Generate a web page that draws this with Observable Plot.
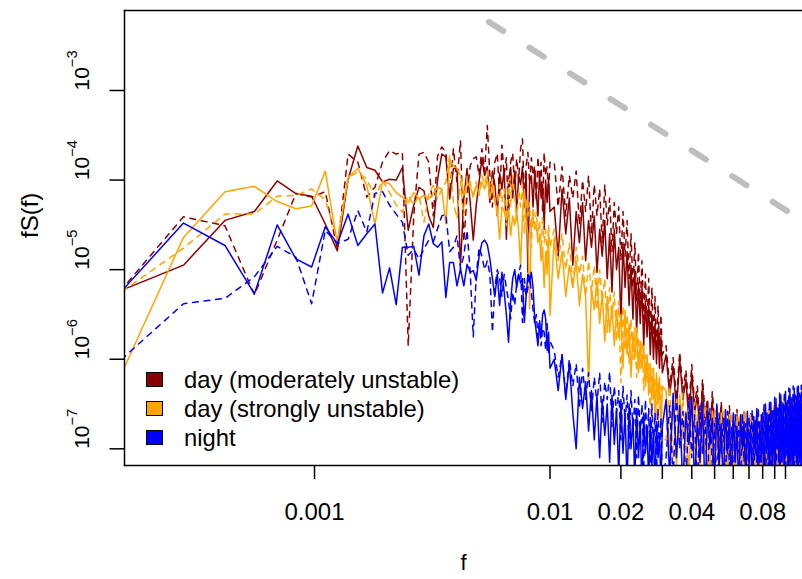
<!DOCTYPE html>
<html>
<head>
<meta charset="utf-8">
<script src="https://cdn.jsdelivr.net/npm/d3@7"></script>
<script src="https://cdn.jsdelivr.net/npm/@observablehq/plot@0.6"></script>
<style>
  html, body { margin: 0; padding: 0; background: #fff; overflow: hidden; }
  #wrap { position: relative; width: 802px; height: 579px; font-family: "Liberation Sans", Arial, Helvetica, sans-serif; }
  #wrap svg { display: block; }
  .legend { position: absolute; left: 146px; top: 365px; font-size: 23.8px; color: #000; }
  .legend .row { height: 29px; display: flex; align-items: center; white-space: nowrap; }
  .legend .sw { width: 15px; height: 13px; border: 1.5px solid #000; margin-right: 21px; flex: none; }
</style>
</head>
<body>
<div id="wrap"></div>
<script>
// ---- data -------------------------------------------------------------
// frequency spacing of the spectral estimates (Hz): f = harmonic * df
const df = 1 / 7200;
const harmonics = [
  1,2,3,4,5,6,7,8,9,10,11,12,13,14,15,16,17,18,19,20,21,22,23,24,
  25,26,27,28,29,30,31,32,33,34,35,36,37,38,39,40,41,42,43,44,45,46,47,48,
  49,50,51,52,53,54,55,56,57,58,59,60,61,62,63,64,65,66,67,68,69,70,71,72,
  75,78,81,84,87,90,93,96,99,102,105,108,111,114,117,120,123,126,129,132,135,138,141,144,
  147,150,153,156,159,162,165,168,171,174,177,180,183,186,189,192,195,198,201,204,207,210,213,216,
  224,232,240,248,256,264,272,280,288,296,304,312,320,328,336,344,352,360,368,376,384,392,400,408,
  416,424,432,440,448,456,464,472,480,488,496,504,512,520,528,536,544,552,560,568,576,584,592,600,
  608,616,624,632,640,648,656,664,672,680,688,696,704,712,720,728,736,744,752,760,768,776,784,792,
  800,808,816,824,832,840,848,856,864
];

// log10 of fS(f), one value per harmonic above
const moderateSolid = [
  -5.27,-4.95,-4.45,-4.35,-4.01,-4.15,-4.18,-4.49,-4.79,-3.99,-3.62,-3.86,
  -3.89,-4.02,-3.99,-4.00,-3.86,-4.56,-4.28,-4.08,-4.12,-4.40,-4.53,-3.99,
  -3.71,-3.74,-4.21,-3.87,-3.87,-4.95,-4.21,-3.87,-4.25,-4.67,-4.28,-4.02,
  -3.76,-3.95,-3.85,-4.25,-3.90,-4.05,-4.40,-3.92,-4.10,-3.88,-4.66,-4.00,
  -3.86,-4.20,-3.90,-4.35,-3.95,-4.05,-3.85,-4.30,-3.92,-5.03,-4.00,-3.95,
  -4.30,-3.90,-4.15,-4.40,-3.92,-4.20,-4.05,-4.55,-4.00,-4.25,-3.98,-4.35,
  -4.30,-4.85,-4.10,-4.60,-4.20,-4.95,-4.35,-4.70,-4.25,-4.90,-4.45,-4.75,
  -4.40,-5.03,-4.55,-4.85,-4.45,-5.10,-4.60,-5.25,-4.55,-5.00,-4.75,-5.59,
  -4.70,-5.20,-4.80,-5.40,-4.95,-5.55,-5.00,-5.70,-5.15,-5.60,-5.20,-5.85,
  -5.35,-5.75,-5.40,-5.95,-5.50,-6.00,-5.60,-6.05,-5.65,-6.10,-5.75,-6.15,
  -5.95,-6.40,-6.08,-6.55,-6.00,-6.45,-6.22,-6.70,-6.15,-6.60,
  -6.40,-6.85,-6.30,-6.75,-6.52,-7.00,-6.45,-6.90,-6.62,-7.10,
  -6.52,-6.95,-6.68,-7.20,-6.58,-7.00,-6.72,-7.30,-6.62,-7.05,
  -6.74,-7.25,-6.64,-7.00,-6.78,-7.35,-6.66,-7.05,-6.76,-7.30,
  -6.68,-7.10,-6.80,-7.40,-6.70,-7.05,-6.78,-7.30,-6.68,-7.10,
  -6.80,-7.40,-6.70,-7.05,-6.78,-7.30,-6.66,-7.10,-6.76,-7.40,
  -6.68,-7.05,-6.78,-7.35,-6.66,-7.10,-6.74,-7.40,-6.64,-7.05,
  -6.76,-7.35,-6.66,-7.10,-6.74,-7.40,-6.64,-7.05,-6.72,-7.30,
  -6.66
];
const moderateDashed = [
  -5.34,-4.41,-4.51,-5.28,-4.67,-4.15,-4.19,-4.13,-4.77,-3.71,-3.80,-4.19,
  -4.08,-3.80,-3.67,-3.71,-3.69,-5.85,-4.40,-3.71,-3.69,-3.80,-4.40,-3.73,
  -3.63,-3.69,-4.17,-3.65,-4.02,-3.56,-4.69,-4.17,-3.84,-3.76,-3.74,-3.95,
  -3.65,-3.90,-3.39,-3.95,-4.30,-3.80,-3.70,-4.20,-3.61,-3.95,-3.75,-4.40,
  -3.80,-3.70,-4.10,-3.76,-4.00,-3.65,-3.54,-4.20,-3.85,-3.69,-4.05,-3.75,
  -3.95,-3.84,-4.25,-3.74,-4.00,-3.80,-4.35,-3.69,-3.95,-3.85,-4.15,-3.80,
  -3.80,-4.30,-3.85,-4.40,-3.95,-4.20,-3.90,-4.50,-4.00,-4.35,-3.95,-4.60,
  -4.05,-4.40,-4.10,-4.70,-4.05,-4.50,-4.20,-4.80,-4.25,-4.60,-4.30,-4.90,
  -4.35,-4.85,-4.45,-5.10,-4.60,-5.20,-4.70,-5.35,-4.80,-5.40,-4.90,-5.55,
  -5.05,-5.60,-5.10,-5.75,-5.20,-5.80,-5.30,-5.90,-5.40,-5.85,-5.50,-5.95,
  -5.85,-6.30,-5.98,-6.45,-5.92,-6.35,-6.12,-6.55,-6.06,-6.50,
  -6.30,-6.75,-6.22,-6.60,-6.44,-6.90,-6.36,-6.70,-6.54,-7.00,
  -6.48,-6.80,-6.62,-7.10,-6.52,-6.85,-6.66,-7.20,-6.56,-6.90,
  -6.68,-7.15,-6.58,-6.88,-6.70,-7.25,-6.60,-6.95,-6.72,-7.20,
  -6.60,-6.90,-6.74,-7.30,-6.62,-6.95,-6.70,-7.20,-6.60,-6.92,
  -6.72,-7.30,-6.62,-6.95,-6.70,-7.20,-6.58,-6.90,-6.68,-7.30,
  -6.60,-6.95,-6.70,-7.25,-6.58,-6.92,-6.68,-7.30,-6.58,-6.95,
  -6.68,-7.25,-6.58,-6.90,-6.66,-7.30,-6.56,-6.95,-6.64,-7.20,
  -6.58
];
const strongSolid = [
  -6.38,-4.64,-4.13,-4.07,-4.24,-4.32,-4.29,-3.90,-4.71,-3.97,-3.87,-4.06,
  -4.49,-4.02,-4.04,-4.14,-4.19,-4.25,-4.14,-4.21,-4.17,-4.21,-4.15,-4.08,
  -4.10,-4.49,-3.76,-3.84,-3.87,-3.95,-4.17,-4.02,-4.08,-4.17,-4.06,-4.14,
  -4.02,-4.10,-3.99,-4.20,-4.05,-4.25,-4.32,-4.66,-4.30,-4.35,-4.45,-4.32,
  -4.62,-4.40,-4.50,-4.35,-4.58,-4.95,-4.40,-4.10,-4.45,-4.60,-5.44,-4.45,
  -4.40,-4.55,-4.50,-4.70,-4.62,-4.90,-4.75,-5.20,-4.80,-5.05,-4.60,-5.51,
  -4.65,-5.10,-4.80,-5.30,-4.95,-5.20,-4.90,-5.40,-5.05,-5.30,-6.26,-5.20,
  -5.45,-5.10,-5.60,-5.25,-5.80,-5.30,-5.70,-5.40,-5.85,-5.45,-5.75,-5.50,
  -6.10,-5.45,-5.95,-5.60,-6.20,-5.70,-6.00,-5.65,-6.15,-5.80,-6.10,-5.85,
  -6.30,-5.95,-6.40,-6.05,-6.45,-6.10,-6.70,-6.15,-6.50,-6.20,-6.85,-6.30,
  -6.35,-7.00,-6.48,-7.20,-6.40,-6.90,-6.58,-7.30,-6.50,-7.00,
  -6.62,-7.40,-6.54,-7.05,-6.68,-7.35,-6.58,-7.10,-6.70,-7.45,
  -6.60,-7.05,-6.72,-7.40,-6.62,-7.10,-6.76,-7.50,-6.64,-7.00,
  -6.70,-7.40,-6.60,-7.15,-6.74,-7.45,-6.62,-7.05,-6.68,-7.40,
  -6.58,-7.10,-6.70,-7.50,-6.60,-7.05,-6.66,-7.40,-6.56,-7.10,
  -6.64,-7.45,-6.52,-7.05,-6.60,-7.40,-6.50,-7.10,-6.58,-7.45,
  -6.48,-7.05,-6.56,-7.40,-6.46,-7.10,-6.54,-7.45,-6.44,-7.05,
  -6.52,-7.40,-6.42,-7.10,-6.50,-7.45,-6.40,-7.05,-6.48,-7.40,
  -6.42
];
const strongDashed = [
  -5.32,-4.76,-4.38,-4.38,-4.18,-4.17,-4.10,-4.22,-4.66,-3.97,-3.91,-3.99,
  -4.19,-4.00,-4.14,-4.28,-4.36,-4.17,-4.28,-4.17,-4.47,-4.14,-4.06,-4.21,
  -4.10,-4.02,-3.73,-4.25,-4.43,-4.02,-4.40,-3.95,-4.02,-4.21,-4.02,-4.17,
  -3.95,-4.05,-3.90,-4.10,-3.99,-4.20,-4.40,-4.05,-4.25,-4.10,-4.51,-4.00,
  -4.30,-3.95,-4.20,-4.45,-4.10,-4.30,-4.05,-4.60,-4.20,-4.40,-4.25,-4.75,
  -4.30,-4.50,-4.35,-4.62,-4.45,-4.80,-4.40,-4.70,-4.55,-4.90,-4.50,-4.75,
  -4.55,-4.90,-4.60,-5.00,-4.70,-5.20,-4.75,-5.05,-4.85,-5.30,-4.90,-5.25,
  -4.95,-5.45,-5.00,-5.35,-5.10,-5.70,-5.20,-5.55,-5.25,-5.80,-5.35,-6.26,
  -5.40,-5.90,-5.50,-6.05,-5.55,-6.00,-5.65,-6.20,-5.75,-6.10,-5.80,-6.35,
  -5.95,-6.25,-6.05,-6.60,-6.10,-6.45,-6.20,-6.75,-6.25,-6.55,-6.30,-6.90,
  -6.90,-6.30,-7.10,-6.44,-6.95,-6.38,-7.25,-6.52,-7.05,-6.48,
  -7.35,-6.60,-7.00,-6.52,-7.40,-6.66,-7.05,-6.56,-7.30,-6.70,
  -7.10,-6.58,-7.45,-6.72,-7.05,-6.60,-7.35,-6.74,-7.10,-6.62,
  -7.45,-6.70,-7.00,-6.60,-7.40,-6.72,-7.10,-6.64,-7.45,-6.68,
  -7.05,-6.56,-7.40,-6.66,-7.10,-6.54,-7.45,-6.62,-7.05,-6.50,
  -7.40,-6.60,-7.10,-6.48,-7.45,-6.56,-7.05,-6.46,-7.40,-6.54,
  -7.10,-6.44,-7.45,-6.52,-7.05,-6.42,-7.40,-6.50,-7.10,-6.40,
  -7.45,-6.48,-7.05,-6.38,-7.40,-6.46,-7.10,-6.36,-7.45,-6.44,
  -7.05
];
const nightSolid = [
  -5.35,-4.48,-4.73,-5.27,-4.50,-4.88,-4.97,-4.52,-4.71,-4.38,-4.73,-4.60,
  -4.49,-5.26,-4.98,-5.39,-4.75,-4.75,-4.74,-5.06,-4.62,-4.49,-4.71,-4.75,
  -4.69,-5.31,-4.92,-4.92,-5.18,-4.99,-5.18,-4.94,-5.03,-5.01,-5.12,-4.85,
  -4.70,-4.67,-4.72,-4.88,-5.10,-5.30,-5.05,-5.40,-5.03,-5.25,-5.50,-5.81,
  -5.35,-5.10,-5.00,-5.20,-5.05,-5.15,-5.10,-5.59,-5.30,-5.05,-5.14,-5.03,
  -5.20,-5.55,-5.70,-5.85,-5.60,-5.75,-5.50,-5.45,-5.55,-5.90,-5.70,-6.10,
  -6.00,-6.35,-5.95,-6.45,-6.05,-6.60,-7.00,-6.20,-6.55,-6.25,-6.80,-6.35,
  -6.90,-6.40,-7.10,-6.45,-6.85,-6.50,-7.15,-6.40,-6.95,-6.55,-7.30,-6.45,
  -7.05,-6.60,-7.40,-6.50,-7.00,-6.65,-7.35,-6.55,-7.10,-6.70,-7.45,-6.60,
  -7.05,-6.75,-7.40,-6.65,-7.20,-6.80,-7.50,-6.70,-7.10,-6.85,-7.40,-6.75,
  -6.45,-7.30,-6.38,-7.10,-6.52,-7.45,-6.60,-6.95,-6.42,-7.40,
  -6.70,-7.15,-6.48,-7.55,-6.58,-6.95,-6.66,-7.40,-6.50,-7.20,
  -6.72,-7.50,-6.56,-7.05,-6.68,-7.45,-6.60,-7.15,-6.75,-7.50,
  -6.62,-7.00,-6.70,-7.45,-6.58,-7.20,-6.74,-7.50,-6.64,-7.05,
  -6.55,-7.45,-6.70,-7.15,-6.60,-7.55,-6.50,-7.05,-6.62,-7.45,
  -6.48,-7.20,-6.58,-7.50,-6.44,-7.00,-6.55,-7.45,-6.40,-7.15,
  -6.50,-7.55,-6.36,-7.05,-6.46,-7.45,-6.33,-7.20,-6.44,-7.50,
  -6.32,-7.05,-6.42,-7.45,-6.30,-7.15,-6.40,-7.55,-6.34,-7.05,
  -6.38
];
const nightDashed = [
  -6.09,-5.38,-5.32,-5.08,-4.74,-4.86,-5.38,-4.56,-4.71,-4.66,-4.34,-4.58,
  -4.15,-4.13,-4.28,-4.38,-4.47,-4.84,-4.77,-4.88,-4.77,-4.67,-4.69,-4.54,
  -4.40,-4.38,-4.80,-4.75,-4.62,-4.99,-4.84,-4.56,-5.03,-5.75,-5.07,-4.75,
  -4.85,-5.00,-4.90,-5.05,-5.70,-5.20,-5.00,-5.10,-5.30,-5.05,-5.20,-5.35,
  -5.55,-5.25,-5.40,-5.15,-5.05,-4.95,-5.59,-5.10,-5.30,-5.20,-5.07,-5.25,
  -5.45,-5.60,-5.50,-5.75,-5.55,-5.85,-5.65,-5.70,-5.90,-5.60,-5.95,-5.80,
  -5.90,-6.20,-5.95,-6.40,-6.00,-6.30,-6.05,-6.55,-6.10,-6.45,-6.15,-6.60,
  -6.20,-6.50,-6.15,-6.70,-6.25,-6.45,-6.14,-6.75,-6.30,-6.60,-6.35,-6.90,
  -6.30,-6.70,-6.40,-7.00,-6.35,-6.80,-6.45,-7.10,-6.40,-6.85,-6.50,-7.25,
  -6.45,-6.90,-6.55,-7.30,-6.50,-7.00,-6.60,-7.35,-6.55,-7.05,-6.65,-7.40,
  -7.10,-6.52,-7.35,-6.40,-7.00,-6.58,-7.45,-6.47,-7.10,-6.62,
  -7.50,-6.52,-7.05,-6.68,-7.40,-6.55,-7.20,-6.72,-7.55,-6.60,
  -7.05,-6.66,-7.45,-6.58,-7.20,-6.76,-7.50,-6.62,-7.00,-6.70,
  -7.45,-6.60,-7.15,-6.72,-7.55,-6.64,-7.05,-6.56,-7.45,-6.68,
  -7.15,-6.54,-7.50,-6.62,-7.05,-6.50,-7.45,-6.60,-7.20,-6.46,
  -7.55,-6.56,-7.05,-6.42,-7.45,-6.52,-7.15,-6.38,-7.50,-6.48,
  -7.05,-6.36,-7.45,-6.46,-7.20,-6.32,-7.55,-6.42,-7.05,-6.30,
  -7.45,-6.40,-7.15,-6.31,-7.50,-6.38,-7.05,-6.29,-7.45,-6.36,
  -7.15
];

// -5/3 reference line (end points)
const refLineF = [0.0055, 0.12];
const refLineFS = [5.83e-3, 3.43e-5];

// axes
const xTickValues = [0.001, 0.01, 0.02, 0.03, 0.04, 0.05, 0.06, 0.07, 0.08, 0.09, 0.1];
const xLabelValues = [0.001, 0.01, 0.02, 0.04, 0.08];
const xLabelTexts = ["0.001", "0.01", "0.02", "0.04", "0.08"];
const yTickValues = [1e-7, 1e-6, 1e-5, 1e-4, 1e-3];
const yTickExponents = ["\u22127", "\u22126", "\u22125", "\u22124", "\u22123"];

// legend
const seriesNames = ["day (moderately unstable)", "day (strongly unstable)", "night"];
const seriesColors = ["#8B0000", "#FFA500", "#0000FF"];

// ---- build ------------------------------------------------------------
const toRows = (logs) => {
  if (logs.length !== harmonics.length) console.warn("length mismatch", logs.length, harmonics.length);
  return harmonics.map((k, i) => ({ f: k * df, fS: Math.pow(10, logs[i]) }));
};
const refRows = refLineF.map((f, i) => ({ f, fS: refLineFS[i] }));

const lineSpecs = [
  [moderateSolid, 0, false],
  [moderateDashed, 0, true],
  [strongSolid, 1, false],
  [strongDashed, 1, true],
  [nightSolid, 2, false],
  [nightDashed, 2, true]
];

const font = '"Liberation Sans", Arial, Helvetica, sans-serif';

const chart = Plot.plot({
  width: 802,
  height: 579,
  marginLeft: 124,
  marginRight: 0,
  marginTop: 10,
  marginBottom: 114,
  style: { fontFamily: font, fontSize: "23px", background: "#fff", color: "#000" },
  x: { type: "log", domain: [1.56e-4, 0.1181] },
  y: { type: "log", domain: [6.514e-8, 7.815e-3] },
  marks: [
    ...lineSpecs.map(([vals, c, dashed]) =>
      Plot.line(toRows(vals), {
        x: "f", y: "fS",
        stroke: seriesColors[c],
        strokeWidth: 1.5,
        strokeDasharray: dashed ? "5.8,5.8" : undefined,
        clip: true
      })
    ),
    Plot.line(refRows, {
      x: "f", y: "fS", stroke: "#BEBEBE", strokeWidth: 6,
      strokeDasharray: "17,31", strokeLinecap: "round", clip: true
    }),
    Plot.frame({ anchor: "top", stroke: "#000", strokeWidth: 1.5 }),
    Plot.frame({ anchor: "left", stroke: "#000", strokeWidth: 1.5 }),
    Plot.frame({ anchor: "bottom", stroke: "#000", strokeWidth: 1.5 }),
    Plot.axisX({
      ticks: xTickValues, tickSize: 14, tickFormat: () => "",
      label: null, strokeWidth: 1.5
    }),
    Plot.text(xLabelValues, {
      x: (d) => d, text: (d, i) => xLabelTexts[i],
      frameAnchor: "bottom", lineAnchor: "top", dy: 37, fontSize: 24
    }),
    Plot.axisY({
      ticks: yTickValues, tickSize: 14.5, tickFormat: () => "",
      label: null, strokeWidth: 1.5
    }),
    Plot.text(yTickValues, {
      y: (d) => d, text: (d, i) => "10^" + yTickExponents[i],
      frameAnchor: "left", dx: -42, rotate: -90, fontSize: 21
    }),
    Plot.text(["fS(f)"], { text: (d) => d, frameAnchor: "left", dx: -94, rotate: -90, fontSize: 24 }),
    Plot.text(["f"], { text: (d) => d, frameAnchor: "bottom", dy: 104, fontSize: 22 })
  ]
});

// superscript exponents on the y tick labels
d3.select(chart).selectAll("text").each(function () {
  const s = this.textContent;
  if (s.startsWith("10^")) {
    const exp = s.slice(3);
    const t = d3.select(this);
    t.text("");
    t.append("tspan").text("10");
    t.append("tspan").attr("dy", -12).attr("font-size", "14.7px").text(exp);
  }
});

const wrap = document.getElementById("wrap");
wrap.appendChild(chart);

// legend overlaid at the bottom-left of the plotting area
const legend = d3.select(wrap).append("div").attr("class", "legend");
seriesNames.forEach((name, i) => {
  const row = legend.append("div").attr("class", "row");
  row.append("div").attr("class", "sw").style("background", seriesColors[i]);
  row.append("span").text(name);
});
</script>
</body>
</html>
